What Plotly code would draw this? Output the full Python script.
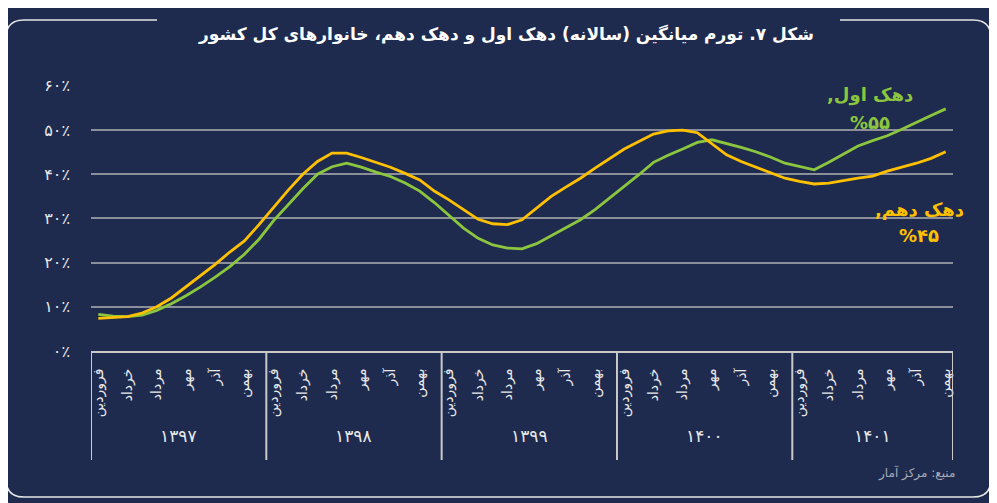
import plotly.graph_objects as go

# ---------------- data ----------------
years = ["۱۳۹۷", "۱۳۹۸", "۱۳۹۹", "۱۴۰۰", "۱۴۰۱"]
months = ["فروردین", "اردیبهشت", "خرداد", "تیر", "مرداد", "شهریور",
          "مهر", "آبان", "آذر", "دی", "بهمن", "اسفند"]

# first decile (green) – monthly, Farvardin 1397 .. Bahman 1401
decile_1 = [8.3, 7.9, 7.8, 8.1, 9.2, 10.7, 12.5, 14.5, 16.7, 19.1, 21.9, 25.3,
            29.5, 33.1, 36.7, 40.0, 41.7, 42.5, 41.6, 40.5, 39.5, 38.0, 36.2, 33.6,
            30.8, 27.8, 25.5, 24.0, 23.3, 23.1, 24.3, 26.1, 27.8, 29.7, 32.0, 34.6,
            37.1, 39.9, 42.7, 44.3, 45.7, 47.2, 47.8, 47.0, 46.1, 45.1, 43.9, 42.5,
            41.7, 41.0, 42.7, 44.6, 46.4, 47.6, 48.7, 50.2, 51.8, 53.3, 54.8]

# tenth decile (yellow)
decile_10 = [7.4, 7.6, 7.8, 8.6, 10.0, 12.0, 14.5, 16.9, 19.6, 22.4, 24.9, 28.6,
             32.6, 36.4, 40.0, 42.9, 44.8, 44.8, 43.8, 42.7, 41.6, 40.2, 38.7, 36.2,
             34.2, 32.0, 29.8, 28.8, 28.6, 29.7, 32.3, 35.0, 37.1, 39.1, 41.4, 43.5,
             45.7, 47.4, 49.1, 49.8, 50.0, 49.4, 46.9, 44.4, 42.9, 41.6, 40.4, 39.1,
             38.4, 37.8, 38.0, 38.6, 39.1, 39.6, 40.7, 41.6, 42.5, 43.6, 45.1]

y_ticks = [0, 10, 20, 30, 40, 50, 60]

series_names = ["دهک اول", "دهک دهم"]
title_text = "شکل ۷. تورم میانگین (سالانه) دهک اول و دهک دهم، خانوارهای کل کشور"
source_text = "منبع: مرکز آمار"

# ---------------- helpers ----------------
FA = str.maketrans("0123456789", "۰۱۲۳۴۵۶۷۸۹")


def fa(s):
    return str(s).translate(FA)


n = len(decile_1)
x_idx = list(range(n))
tick_vals = [i for i in x_idx if (i % 12) % 2 == 0]
tick_text = [months[i % 12] for i in tick_vals]

OFF = 8                      # page body margin
W, H = 997 - OFF, 503 - OFF
PL, PR, PT, PB = 91, 953, 85, 351   # plot area in window pixels
L, T = PL - OFF, PT - OFF
R, B = W - (PR - OFF), H - (PB - OFF)
PW, PH = PR - PL, PB - PT
YMAX = 60.2
UPX = PH / YMAX              # pixels per percent


def px(xp):
    return (xp - PL) / PW


def py(yp):
    return (PB - yp) / PH


def yv(yp):
    return (PB - yp) / UPX


BG = "#1e2b4f"
GREEN = "#8cc63f"
YELLOW = "#ffc000"
FRAME = "#e6e6e6"
AXIS = "#c9c9c9"
TXT = "#e8e8e8"
FONT = "DejaVu Sans"

fig = go.Figure()
fig.add_trace(go.Scatter(x=x_idx, y=decile_1, mode="lines", name=series_names[0],
                         line=dict(color=GREEN, width=2.8)))
fig.add_trace(go.Scatter(x=x_idx, y=decile_10, mode="lines", name=series_names[1],
                         line=dict(color=YELLOW, width=2.8)))

shapes = []
# year dividers below the axis
bounds = [-0.5 + 12 * k for k in range(len(years))] + [n - 0.5]
for b in bounds:
    shapes.append(dict(type="line", xref="x", yref="paper", x0=b, x1=b,
                       y0=0, y1=py(460), line=dict(color=AXIS, width=2)))

# rounded frame, broken by the title
fx0, fx1, fy0, fy1, r = 6, 991, 20, 497, 18
path = (f"M {px(157)},{py(fy0)} L {px(fx0 + r)},{py(fy0)} "
        f"Q {px(fx0)},{py(fy0)} {px(fx0)},{py(fy0 + r)} "
        f"L {px(fx0)},{py(fy1 - r)} Q {px(fx0)},{py(fy1)} {px(fx0 + r)},{py(fy1)} "
        f"L {px(fx1 - r)},{py(fy1)} Q {px(fx1)},{py(fy1)} {px(fx1)},{py(fy1 - r)} "
        f"L {px(fx1)},{py(fy0 + r)} Q {px(fx1)},{py(fy0)} {px(fx1 - r)},{py(fy0)} "
        f"L {px(840)},{py(fy0)}")
shapes.append(dict(type="path", xref="paper", yref="paper", path=path,
                   line=dict(color=FRAME, width=1.6)))

annotations = []
# year labels
for k, yr in enumerate(years):
    first = 12 * k
    last = min(12 * k + 11, n - 1)
    annotations.append(dict(x=(first + last) / 2, y=py(448), xref="x", yref="paper",
                            text=yr, showarrow=False,
                            font=dict(family=FONT, size=17, color=TXT)))

# series end labels
annotations += [
    dict(x=52.8, y=yv(95), xref="x", yref="y",
         text="<b>" + series_names[0] + "\u200f,\u200f</b>", showarrow=False,
         font=dict(family=FONT, size=18, color=GREEN)),
    dict(x=52.8, y=yv(122), xref="x", yref="y",
         text="<b>%" + fa(round(decile_1[-1])) + "</b>", showarrow=False,
         font=dict(family=FONT, size=18, color=GREEN)),
    dict(x=56.2, y=yv(209), xref="x", yref="y",
         text="<b>" + series_names[1] + "\u200f,\u200f</b>", showarrow=False,
         font=dict(family=FONT, size=18, color=YELLOW)),
    dict(x=56.2, y=yv(235), xref="x", yref="y",
         text="<b>%" + fa(round(decile_10[-1])) + "</b>", showarrow=False,
         font=dict(family=FONT, size=18, color=YELLOW)),
]

# source
annotations.append(dict(x=px(957), y=py(483), xref="paper", yref="paper",
                        xanchor="right", text=source_text, showarrow=False,
                        font=dict(family=FONT, size=12, color="#a9adb8")))

# title
annotations.append(dict(x=px(506), y=py(22), xref="paper", yref="paper",
                        text="<b>" + title_text + "</b>", showarrow=False,
                        font=dict(family=FONT, size=17, color="#ffffff")))

fig.update_layout(
    width=W, height=H,
    margin=dict(l=L, r=R, t=T, b=B, pad=0),
    paper_bgcolor=BG, plot_bgcolor=BG,
    showlegend=False,
    shapes=shapes,
    annotations=annotations,
    font=dict(family=FONT, color=TXT),
)
fig.update_xaxes(range=[-0.5, n - 0.5], tickmode="array", tickvals=tick_vals,
                 ticktext=tick_text, tickangle=-90, showgrid=False, zeroline=False,
                 showline=True, linecolor=AXIS, linewidth=2, ticks="",
                 ticklabelstandoff=10,
                 tickfont=dict(family=FONT, size=14, color=TXT))
fig.update_yaxes(range=[0, YMAX], tickmode="array", tickvals=y_ticks,
                 ticktext=[fa(v) + "٪" for v in y_ticks], showgrid=True,
                 gridcolor="#8a8f9a", gridwidth=1.5, zeroline=False,
                 showline=False, ticks="", ticklabelstandoff=20,
                 tickfont=dict(family=FONT, size=16, color=TXT))

fig.write_html("out.html")
